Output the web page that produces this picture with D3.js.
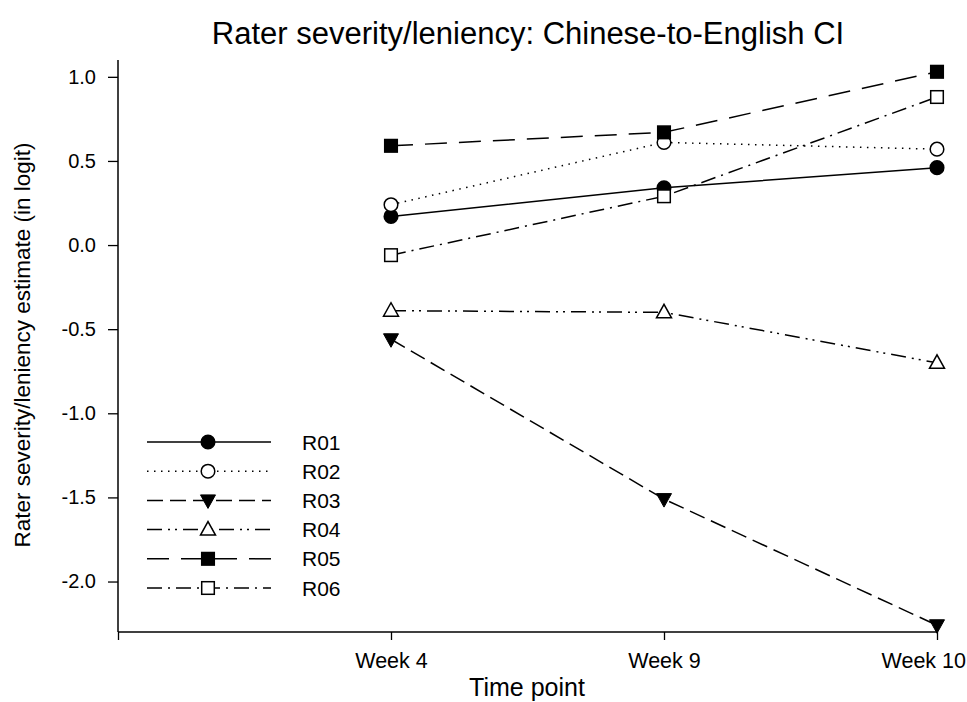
<!DOCTYPE html>
<html>
<head>
<meta charset="utf-8">
<script src="https://cdn.jsdelivr.net/npm/d3@7"></script>
<style>
  html, body { margin: 0; padding: 0; background: #fff; }
  svg { display: block; font-family: "Liberation Sans", Arial, sans-serif; }
</style>
</head>
<body>
<svg id="chart" width="967" height="702"></svg>
<script>
// ---- data ----
const categories = ["Week 4", "Week 9", "Week 10"];
const raters = ["R01", "R02", "R03", "R04", "R05", "R06"];
const r01 = [0.17, 0.34, 0.46];
const r02 = [0.24, 0.61, 0.57];
const r03 = [-0.56, -1.51, -2.26];
const r04 = [-0.39, -0.40, -0.70];
const r05 = [0.59, 0.67, 1.03];
const r06 = [-0.06, 0.29, 0.88];
const seriesValues = [r01, r02, r03, r04, r05, r06];
const yTicks = [-2.0, -1.5, -1.0, -0.5, 0.0, 0.5, 1.0];

// ---- styles ----
const markers = ["circleFilled", "circleOpen", "triDownFilled", "triUpOpen", "squareFilled", "squareOpen"];
const dashes = [null, "1.5,5.5", "16,7", "15,6,2,5,2,6", "22,12", "15,6,2,6"];

const svg = d3.select("#chart");
const x = d3.scaleLinear().domain([0, 3]).range([118, 937]);
const y = d3.scaleLinear().domain([-2.3, 1.1]).range([632, 60]);

// title
svg.append("text").attr("x", 528).attr("y", 44).attr("text-anchor", "middle")
  .attr("font-size", 31).text("Rater severity/leniency: Chinese-to-English CI");

// axes
const yAxis = d3.axisLeft(y).tickValues(yTicks).tickFormat(d => d.toFixed(1)).tickSize(10).tickPadding(12);
const gy = svg.append("g").attr("transform", "translate(118,0)").call(yAxis);
const xAxis = d3.axisBottom(x).tickValues([0, 1, 2, 3])
  .tickFormat(d => d === 0 ? "" : categories[d - 1]).tickSize(8).tickPadding(13);
const gx = svg.append("g").attr("transform", "translate(0,632)").call(xAxis);
[gx, gy].forEach(g => {
  g.attr("font-size", 20).attr("font-family", "Liberation Sans, Arial, sans-serif");
  g.select(".domain").attr("stroke", "#000").attr("stroke-width", 1.5);
  g.selectAll(".tick line").attr("stroke", "#000").attr("stroke-width", 1.3);
  g.selectAll(".tick text").attr("fill", "#000");
});
gx.attr("font-size", 21.5);
gy.select(".domain").attr("d", "M0,632V60");
gx.select(".domain").attr("d", "M118,0H937");
// keep the last tick label inside the page
gx.selectAll(".tick text").each(function () {
  const b = this.getBBox();
  const tr = this.parentNode.transform.baseVal.consolidate();
  const tx = tr ? tr.matrix.e : 0;
  const right = tx + b.x + b.width;
  if (right > 966) d3.select(this).attr("x", 966 - right);
});

// axis titles
svg.append("text").attr("x", 527).attr("y", 696).attr("text-anchor", "middle")
  .attr("font-size", 25).text("Time point");
svg.append("text").attr("transform", "translate(30,345) rotate(-90)").attr("text-anchor", "middle")
  .attr("font-size", 22.5).text("Rater severity/leniency estimate (in logit)");

function drawMarker(g, type, cx, cy) {
  const sw = 1.5;
  if (type.startsWith("circle")) {
    g.append("circle").attr("cx", cx).attr("cy", cy).attr("r", 6.8)
      .attr("fill", type === "circleFilled" ? "#000" : "#fff").attr("stroke", "#000").attr("stroke-width", sw);
  } else if (type.startsWith("square")) {
    g.append("rect").attr("x", cx - 6.3).attr("y", cy - 6.3).attr("width", 12.6).attr("height", 12.6)
      .attr("fill", type === "squareFilled" ? "#000" : "#fff").attr("stroke", "#000").attr("stroke-width", sw);
  } else if (type === "triDownFilled") {
    g.append("path").attr("d", `M${cx - 7.5},${cy - 5.5}L${cx + 7.5},${cy - 5.5}L${cx},${cy + 8}Z`)
      .attr("fill", "#000").attr("stroke", "#000").attr("stroke-width", 1);
  } else if (type === "triUpOpen") {
    g.append("path").attr("d", `M${cx - 7.5},${cy + 5.5}L${cx + 7.5},${cy + 5.5}L${cx},${cy - 8}Z`)
      .attr("fill", "#fff").attr("stroke", "#000").attr("stroke-width", sw);
  }
}

const line = d3.line().x((d, i) => x(i + 1)).y(d => y(d));
const gLines = svg.append("g");
seriesValues.forEach((vals, s) => {
  gLines.append("path").attr("d", line(vals)).attr("fill", "none").attr("stroke", "#000")
    .attr("stroke-width", 1.5).attr("stroke-dasharray", dashes[s]);
});
const gMarks = svg.append("g");
seriesValues.forEach((vals, s) => {
  vals.forEach((v, i) => drawMarker(gMarks, markers[s], x(i + 1), y(v)));
});

// legend
const legend = svg.append("g");
raters.forEach((name, s) => {
  const ly = 442 + s * 29.2;
  legend.append("line").attr("x1", 147).attr("x2", 271).attr("y1", ly).attr("y2", ly)
    .attr("stroke", "#000").attr("stroke-width", 1.5).attr("stroke-dasharray", dashes[s]);
  drawMarker(legend, markers[s], 208, ly);
  legend.append("text").attr("x", 302).attr("y", ly + 7.5).attr("font-size", 21).text(name);
});
</script>
</body>
</html>
